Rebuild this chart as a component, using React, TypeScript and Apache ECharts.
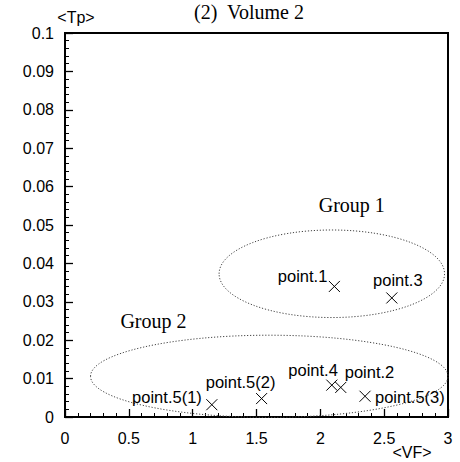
import React, { useEffect, useRef } from "react";
import * as echarts from "echarts";

// Measured points: <VF> on x, <Tp> on y
const pointNames = ["point.1", "point.2", "point.3", "point.4", "point.5(1)", "point.5(2)", "point.5(3)"];
const vfValues = [2.11, 2.16, 2.56, 2.09, 1.15, 1.54, 2.35];
const tpValues = [0.034, 0.0077, 0.031, 0.0083, 0.0032, 0.0048, 0.0054];

// Group outlines: centre and half-extent of each ellipse, in axis units
const groupNames = ["Group 1", "Group 2"];
const groupCenterVF = [2.09, 1.6];
const groupCenterTp = [0.0373, 0.0106];
const groupHalfVF = [0.883, 1.4];
const groupHalfTp = [0.0114, 0.0107];

// Axis tick labels
const xTicks = ["0", "0.5", "1", "1.5", "2", "2.5", "3"];
const yTicks = ["0", "0.01", "0.02", "0.03", "0.04", "0.05", "0.06", "0.07", "0.08", "0.09", "0.1"];

const SANS = "'Liberation Sans', Arial, sans-serif";
const SERIF = "'Liberation Serif', 'Times New Roman', serif";

// Label placement per point (pixel offset from the marker and alignment)
const labelPlacement: Record<string, { dx: number; dy: number; align: string }> = {
  "point.1": { dx: -7, dy: -10, align: "right" },
  "point.2": { dx: 4, dy: -15, align: "left" },
  "point.3": { dx: 6, dy: -18, align: "center" },
  "point.4": { dx: 6, dy: -15, align: "right" },
  "point.5(1)": { dx: -10, dy: -8, align: "right" },
  "point.5(2)": { dx: -21, dy: -17, align: "center" },
  "point.5(3)": { dx: 10, dy: 1, align: "left" },
};

// Where each group caption sits, in axis units
const groupCaptionAt: Record<string, [number, number]> = {
  "Group 1": [2.246, 0.0553],
  "Group 2": [0.693, 0.0251],
};

export default function App() {
  const ref = useRef<HTMLDivElement>(null);

  useEffect(() => {
    if (!ref.current) return;
    const chart = echarts.init(ref.current, undefined, { renderer: "svg" });

    const pointData = pointNames.map((n, i) => [vfValues[i], tpValues[i], i]);
    const groupData = groupNames.map((n, i) => [
      groupCenterVF[i],
      groupCenterTp[i],
      groupHalfVF[i],
      groupHalfTp[i],
      i,
    ]);

    const axisCommon = {
      type: "value" as const,
      axisLine: { show: true, onZero: false, lineStyle: { color: "#000", width: 2 } },
      axisTick: { show: true, inside: true, length: 8, lineStyle: { color: "#000", width: 1.3 } },
      minorTick: { show: true, splitNumber: 5, length: 4, lineStyle: { color: "#000", width: 1 } },
      splitLine: { show: false },
      minorSplitLine: { show: false },
    };

    chart.setOption({
      animation: false,
      backgroundColor: "#fff",
      grid: {
        left: 65,
        right: 12,
        top: 33,
        bottom: 45,
        show: true,
        borderColor: "#000",
        borderWidth: 2,
        containLabel: false,
      },
      xAxis: {
        ...axisCommon,
        min: 0,
        max: 3,
        interval: 0.5,
        axisLabel: {
          color: "#000",
          fontSize: 16,
          fontFamily: SANS,
          margin: 13,
          formatter: (v: number) => xTicks[Math.round(v / 0.5)] ?? String(v),
        },
      },
      yAxis: {
        ...axisCommon,
        min: 0,
        max: 0.1,
        interval: 0.01,
        axisLabel: {
          color: "#000",
          fontSize: 16,
          fontFamily: SANS,
          margin: 11,
          formatter: (v: number) => yTicks[Math.round(v / 0.01)] ?? String(v),
        },
      },
      graphic: [
        {
          type: "text",
          x: 249,
          y: 12,
          style: {
            text: "(2)  Volume 2",
            fontFamily: SERIF,
            fontSize: 20,
            fill: "#000",
            align: "center",
            verticalAlign: "middle",
          },
        },
        {
          type: "text",
          x: 76,
          y: 17,
          style: {
            text: "<Tp>",
            fontFamily: SANS,
            fontSize: 16,
            fill: "#000",
            align: "center",
            verticalAlign: "middle",
          },
        },
        {
          type: "text",
          x: 412,
          y: 452,
          style: {
            text: "<VF>",
            fontFamily: SANS,
            fontSize: 16,
            fill: "#000",
            align: "center",
            verticalAlign: "middle",
          },
        },
      ],
      series: [
        {
          type: "custom",
          coordinateSystem: "cartesian2d",
          clip: false,
          silent: true,
          encode: { x: 0, y: 1 },
          data: groupData,
          renderItem: (params: any, api: any) => {
            const idx = api.value(4);
            const name = groupNames[idx];
            const c = api.coord([api.value(0), api.value(1)]);
            const s = api.size([api.value(2), api.value(3)]);
            const cap = api.coord(groupCaptionAt[name]);
            return {
              type: "group",
              children: [
                {
                  type: "ellipse",
                  shape: { cx: c[0], cy: c[1], rx: s[0], ry: s[1] },
                  style: { fill: "none", stroke: "#444", lineWidth: 1, lineDash: [1.2, 1.8] },
                },
                {
                  type: "text",
                  x: cap[0],
                  y: cap[1],
                  style: {
                    text: name,
                    fontFamily: SERIF,
                    fontSize: 20,
                    fill: "#000",
                    align: "center",
                    verticalAlign: "middle",
                  },
                },
              ],
            };
          },
        },
        {
          type: "custom",
          coordinateSystem: "cartesian2d",
          clip: false,
          silent: true,
          encode: { x: 0, y: 1 },
          data: pointData,
          renderItem: (params: any, api: any) => {
            const name = pointNames[api.value(2)];
            const p = api.coord([api.value(0), api.value(1)]);
            const h = 5.5;
            const lp = labelPlacement[name];
            const stroke = { stroke: "#000", lineWidth: 1 };
            return {
              type: "group",
              children: [
                { type: "line", shape: { x1: p[0] - h, y1: p[1] - h, x2: p[0] + h, y2: p[1] + h }, style: stroke },
                { type: "line", shape: { x1: p[0] - h, y1: p[1] + h, x2: p[0] + h, y2: p[1] - h }, style: stroke },
                {
                  type: "text",
                  x: p[0] + lp.dx,
                  y: p[1] + lp.dy,
                  style: {
                    text: name,
                    fontFamily: SANS,
                    fontSize: 16.5,
                    fill: "#000",
                    align: lp.align,
                    verticalAlign: "middle",
                  },
                },
              ],
            };
          },
        },
      ],
    });

    return () => chart.dispose();
  }, []);

  return (
    <div
      ref={ref}
      style={{ position: "fixed", left: 0, top: 0, width: 460, height: 462, background: "#fff" }}
    />
  );
}
